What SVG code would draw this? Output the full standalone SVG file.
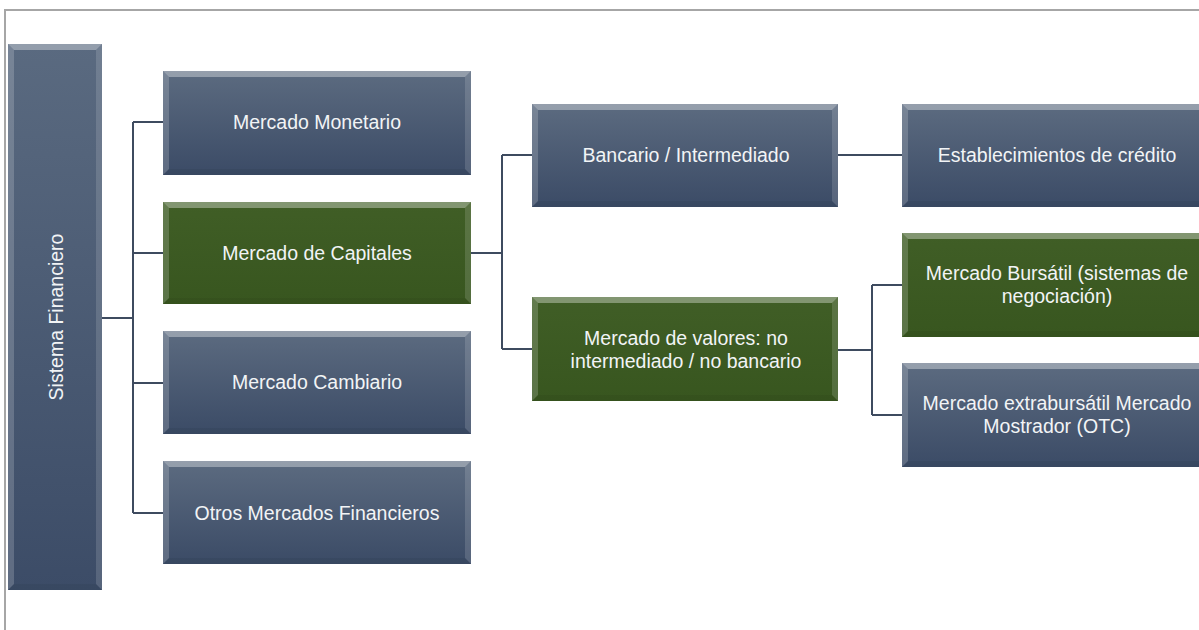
<svg xmlns="http://www.w3.org/2000/svg" width="1199" height="630" viewBox="0 0 1199 630">
<defs>
<linearGradient id="gb" x1="0" y1="0" x2="0" y2="1">
<stop offset="0" stop-color="#5c6b80"/>
<stop offset="1" stop-color="#3b4b66"/>
</linearGradient>
<linearGradient id="gg" x1="0" y1="0" x2="0" y2="1">
<stop offset="0" stop-color="#405e26"/>
<stop offset="1" stop-color="#38561f"/>
</linearGradient>
<linearGradient id="gs" x1="0" y1="0" x2="0" y2="1">
<stop offset="0" stop-color="#5a6a80"/>
<stop offset="1" stop-color="#3c4c67"/>
</linearGradient>
</defs>
<style>
.t{font-family:"Liberation Sans",Arial,sans-serif;font-size:19.5px;fill:#f2f4f6;text-anchor:middle}
.c{fill:none;stroke:#3e4b5f;stroke-width:2}
.bt{fill:#ffffff;opacity:0.35}
.bl{fill:#ffffff;opacity:0.18}
.br{fill:#ffffff;opacity:0.14}
.bb{fill:#000000;opacity:0.05}
</style>
<rect width="1199" height="630" fill="#ffffff"/>
<path d="M5 630 V10 H1199" fill="none" stroke="#a6a6a6" stroke-width="2"/>

<g id="connectors">
<path class="c" d="M102 318 H133 M133 122 V513 M133 122 H163 M133 253 H163 M133 383 H163 M133 513 H163"/>
<path class="c" d="M471 253 H502 M502 155 V349 M502 155 H532 M502 349 H532"/>
<path class="c" d="M838 155 H902"/>
<path class="c" d="M838 350 H872 M872 285 V415 M872 285 H902 M872 415 H902"/>
</g>

<g id="sistema">
<rect x="8" y="44" width="94" height="546" fill="url(#gs)"/>
<polygon class="bt" points="8,44 102,44 96,50 14,50"/>
<polygon class="bl" points="8,44 14,50 14,584 8,590"/>
<polygon class="br" points="102,44 102,590 96,584 96,50"/>
<polygon class="bb" points="8,590 102,590 96,584 14,584"/>
<text class="t" transform="translate(63,317) rotate(-90)">Sistema Financiero</text>
</g>

<g id="monetario">
<rect x="163" y="71" width="308" height="104" fill="url(#gb)"/>
<polygon class="bt" points="163,71 471,71 465,77 169,77"/>
<polygon class="bl" points="163,71 169,77 169,169 163,175"/>
<polygon class="br" points="471,71 471,175 465,169 465,77"/>
<polygon class="bb" points="163,175 471,175 465,169 169,169"/>
<text class="t" x="317" y="129">Mercado Monetario</text>
</g>

<g id="capitales">
<rect x="163" y="202" width="308" height="102" fill="url(#gg)"/>
<polygon class="bt" points="163,202 471,202 465,208 169,208"/>
<polygon class="bl" points="163,202 169,208 169,298 163,304"/>
<polygon class="br" points="471,202 471,304 465,298 465,208"/>
<polygon class="bb" points="163,304 471,304 465,298 169,298"/>
<text class="t" x="317" y="260">Mercado de Capitales</text>
</g>

<g id="cambiario">
<rect x="163" y="331" width="308" height="103" fill="url(#gb)"/>
<polygon class="bt" points="163,331 471,331 465,337 169,337"/>
<polygon class="bl" points="163,331 169,337 169,428 163,434"/>
<polygon class="br" points="471,331 471,434 465,428 465,337"/>
<polygon class="bb" points="163,434 471,434 465,428 169,428"/>
<text class="t" x="317" y="389">Mercado Cambiario</text>
</g>

<g id="otros">
<rect x="163" y="461" width="308" height="103" fill="url(#gb)"/>
<polygon class="bt" points="163,461 471,461 465,467 169,467"/>
<polygon class="bl" points="163,461 169,467 169,558 163,564"/>
<polygon class="br" points="471,461 471,564 465,558 465,467"/>
<polygon class="bb" points="163,564 471,564 465,558 169,558"/>
<text class="t" x="317" y="520">Otros Mercados Financieros</text>
</g>

<g id="bancario">
<rect x="532" y="104" width="306" height="103" fill="url(#gb)"/>
<polygon class="bt" points="532,104 838,104 832,110 538,110"/>
<polygon class="bl" points="532,104 538,110 538,201 532,207"/>
<polygon class="br" points="838,104 838,207 832,201 832,110"/>
<polygon class="bb" points="532,207 838,207 832,201 538,201"/>
<text class="t" x="686" y="162">Bancario / Intermediado</text>
</g>

<g id="valores">
<rect x="532" y="297" width="306" height="104" fill="url(#gg)"/>
<polygon class="bt" points="532,297 838,297 832,303 538,303"/>
<polygon class="bl" points="532,297 538,303 538,395 532,401"/>
<polygon class="br" points="838,297 838,401 832,395 832,303"/>
<polygon class="bb" points="532,401 838,401 832,395 538,395"/>
<text class="t" x="686" y="345">Mercado de valores: no</text>
<text class="t" x="686" y="368">intermediado / no bancario</text>
</g>

<g id="establecimientos">
<rect x="902" y="104" width="310" height="103" fill="url(#gb)"/>
<polygon class="bt" points="902,104 1212,104 1206,110 908,110"/>
<polygon class="bl" points="902,104 908,110 908,201 902,207"/>
<polygon class="bb" points="902,207 1212,207 1206,201 908,201"/>
<text class="t" x="1057" y="162">Establecimientos de crédito</text>
</g>

<g id="bursatil">
<rect x="902" y="233" width="310" height="104" fill="url(#gg)"/>
<polygon class="bt" points="902,233 1212,233 1206,239 908,239"/>
<polygon class="bl" points="902,233 908,239 908,331 902,337"/>
<polygon class="bb" points="902,337 1212,337 1206,331 908,331"/>
<text class="t" x="1057" y="280">Mercado Bursátil (sistemas de</text>
<text class="t" x="1057" y="303">negociación)</text>
</g>

<g id="extrabursatil">
<rect x="902" y="363" width="310" height="104" fill="url(#gb)"/>
<polygon class="bt" points="902,363 1212,363 1206,369 908,369"/>
<polygon class="bl" points="902,363 908,369 908,461 902,467"/>
<polygon class="bb" points="902,467 1212,467 1206,461 908,461"/>
<text class="t" x="1057" y="410">Mercado extrabursátil Mercado</text>
<text class="t" x="1057" y="433">Mostrador (OTC)</text>
</g>
</svg>
